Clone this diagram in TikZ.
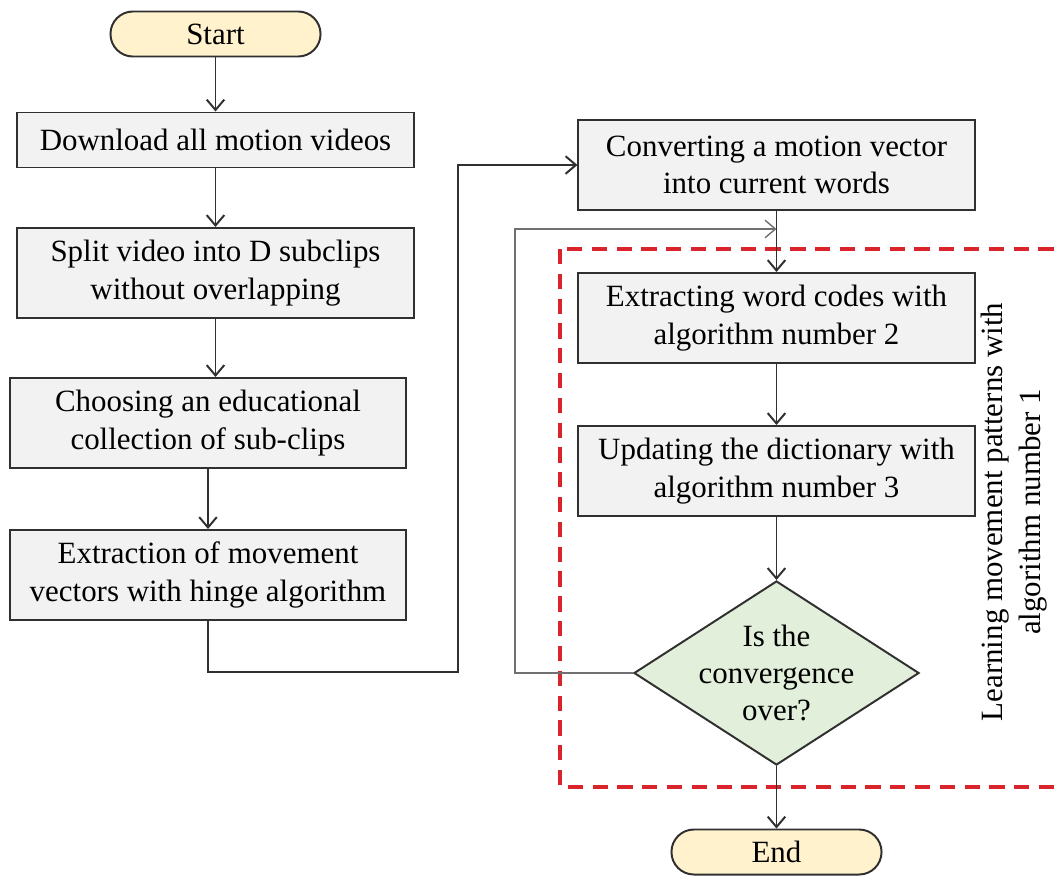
\documentclass[tikz,border=0pt]{standalone}
\usepackage{fontspec}
\setmainfont{Liberation Serif}
\usepackage[dvipsnames]{xcolor}
\usetikzlibrary{shapes.geometric,arrows.meta}

\definecolor{boxfill}{HTML}{F2F2F2}
\definecolor{termfill}{HTML}{FFF2CC}
\definecolor{askfill}{HTML}{E2EFDA}
\definecolor{linegray}{HTML}{303030}
\definecolor{loopgray}{HTML}{707070}
\definecolor{dashred}{HTML}{D9242B}

\begin{document}
\begin{tikzpicture}[x=0.025cm,y=-0.025cm,>={Straight Barb[length=0.26cm,width=0.44cm]},line width=1.4pt,draw=linegray,
  main node/.style={draw=linegray,fill=boxfill,minimum width=9.9cm,minimum height=2.25cm,align=center,inner sep=2pt,font=\fontsize{22}{26.5}\selectfont},
  term node/.style={draw=linegray,fill=termfill,rounded corners=0.56cm,minimum width=5.25cm,minimum height=1.125cm,font=\fontsize{22}{26.5}\selectfont},
  ask node/.style={diamond,draw=linegray,fill=askfill,aspect=1.55,inner sep=0pt,minimum width=7.125cm,minimum height=4.6cm},
  frame/.style={draw=dashred,line width=2.4pt,dash pattern=on 0.38cm off 0.24cm}]
  \useasboundingbox (0,0) rectangle (1058,875);

  \node[main node,minimum height=1.375cm] (1) at (215.5,140) {Download all motion videos};
  \node[term node] (0) at (215.5,34) {Start};
  \node[main node] (2) at (215.5,273) {Split video into D subclips\\without overlapping};
  \node[main node] (3) at (208,423) {Choosing an educational\\collection of sub-clips};
  \node[main node] (4) at (208,575) {Extraction of movement\\vectors with hinge algorithm};

  \node[main node] (5) at (776.5,165) {Converting a motion vector\\into current words};
  \node[main node] (6) at (776.5,318) {Extracting word codes with\\algorithm number 2};
  \node[main node] (7) at (776.5,471) {Updating the dictionary with\\algorithm number 3};
  \node[ask node,label={[align=center,font=\fontsize{22}{26.5}\selectfont]center:Is the\\convergence\\over?}] (8) at (776.5,673) {};
  \node[term node] (9) at (776.5,852) {End};

  % dashed frame round the learning loop
  \draw[frame] (560,249) rectangle (1075,787);
  \node[rotate=90,align=center,font=\fontsize{22}{26.5}\selectfont] (10) at (1014,512) {Learning movement patterns with\\algorithm number 1};

  \coordinate (a) at (458,672);
  \coordinate (b) at (515,229);
  \coordinate (c) at (776.5,229);

  \path[->]
    (0) edge (1)
    (1) edge (2)
    (3) edge (4)
    (5) edge (6)
    (6) edge (7)
    (7) edge (8)
    (8) edge (9)
  ;
  \draw[->] (2.south) -- (2.south |- 3.north);
  \draw[->] (4.south) |- (a) |- (5.west);
  \draw[->,draw=loopgray,line width=1pt] (8.west) -| (b) -- (c);
\end{tikzpicture}
\end{document}
